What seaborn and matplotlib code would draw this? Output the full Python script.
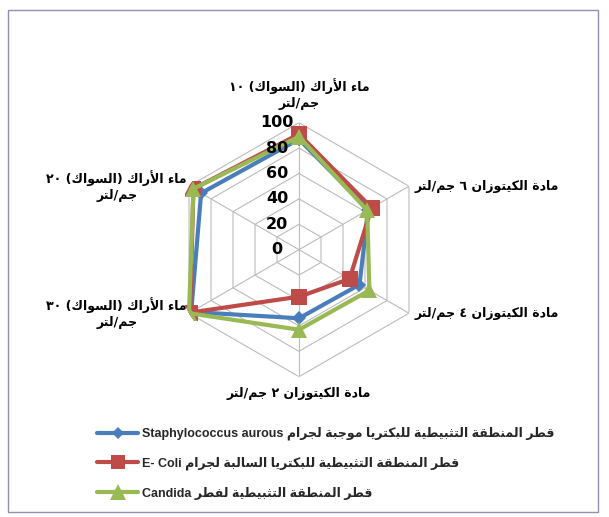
import numpy as np
import pandas as pd
import matplotlib
matplotlib.use("Agg")
import matplotlib.pyplot as plt
import seaborn as sns
from matplotlib import transforms
from matplotlib.lines import Line2D
from matplotlib.patches import Rectangle

# ---------------- data ----------------
categories = [
    "ماء الأراك (السواك) ١٠\nجم/لتر",
    "مادة الكيتوزان ٦ جم/لتر",
    "مادة الكيتوزان ٤ جم/لتر",
    "مادة الكيتوزان ٢ جم/لتر",
    "ماء الأراك (السواك) ٣٠\nجم/لتر",
    "ماء الأراك (السواك) ٢٠\nجم/لتر",
]
staph = [87, 63, 55, 54, 98, 89]
ecoli = [91, 66, 46, 37, 99, 96]
candida = [89, 62, 64, 63, 100, 96]
series_labels = [
    "قطر المنطقة التثبيطية للبكتريا موجبة لجرام Staphylococcus aurous",
    "قطر المنطقة التثبيطية للبكتريا السالبة لجرام E- Coli",
    "قطر المنطقة التثبيطية لفطر Candida",
]
radial_ticks = [0, 20, 40, 60, 80, 100]

# ---------------- Arabic shaping + simple bidi ----------------
FORMS = {
    '\u0621': ('\uFE80', None, None, None),
    '\u0623': ('\uFE83', '\uFE84', None, None),
    '\u0627': ('\uFE8D', '\uFE8E', None, None),
    '\u0628': ('\uFE8F', '\uFE90', '\uFE91', '\uFE92'),
    '\u0629': ('\uFE93', '\uFE94', None, None),
    '\u062A': ('\uFE95', '\uFE96', '\uFE97', '\uFE98'),
    '\u062B': ('\uFE99', '\uFE9A', '\uFE9B', '\uFE9C'),
    '\u062C': ('\uFE9D', '\uFE9E', '\uFE9F', '\uFEA0'),
    '\u062F': ('\uFEA9', '\uFEAA', None, None),
    '\u0631': ('\uFEAD', '\uFEAE', None, None),
    '\u0632': ('\uFEAF', '\uFEB0', None, None),
    '\u0633': ('\uFEB1', '\uFEB2', '\uFEB3', '\uFEB4'),
    '\u0637': ('\uFEC1', '\uFEC2', '\uFEC3', '\uFEC4'),
    '\u0641': ('\uFED1', '\uFED2', '\uFED3', '\uFED4'),
    '\u0642': ('\uFED5', '\uFED6', '\uFED7', '\uFED8'),
    '\u0643': ('\uFED9', '\uFEDA', '\uFEDB', '\uFEDC'),
    '\u0644': ('\uFEDD', '\uFEDE', '\uFEDF', '\uFEE0'),
    '\u0645': ('\uFEE1', '\uFEE2', '\uFEE3', '\uFEE4'),
    '\u0646': ('\uFEE5', '\uFEE6', '\uFEE7', '\uFEE8'),
    '\u0647': ('\uFEE9', '\uFEEA', '\uFEEB', '\uFEEC'),
    '\u0648': ('\uFEED', '\uFEEE', None, None),
    '\u064A': ('\uFEF1', '\uFEF2', '\uFEF3', '\uFEF4'),
}
LAM_ALEF = {'\u0627': ('\uFEFB', '\uFEFC'), '\u0623': ('\uFEF7', '\uFEF8')}


def _dual(c):
    return c in FORMS and FORMS[c][2] is not None


def _joinable(c):
    return c in FORMS and FORMS[c][1] is not None


def shape(s):
    out = []
    i = 0
    prev_dual = False
    while i < len(s):
        c = s[i]
        if c not in FORMS:
            out.append(c)
            prev_dual = False
            i += 1
            continue
        nxt = s[i + 1] if i + 1 < len(s) else ''
        if c == '\u0644' and nxt in LAM_ALEF:
            out.append(LAM_ALEF[nxt][1 if prev_dual else 0])
            prev_dual = False
            i += 2
            continue
        cp = prev_dual and _joinable(c)
        cn = _dual(c) and _joinable(nxt)
        iso, fin, ini, med = FORMS[c]
        out.append(med if (cp and cn) else fin if cp else ini if cn else iso)
        prev_dual = _dual(c)
        i += 1
    return ''.join(out)


MIRROR = {'(': ')', ')': '('}


def _cls(c):
    o = ord(c)
    if (0x0600 <= o <= 0x06FF and not 0x0660 <= o <= 0x0669) or 0xFB50 <= o <= 0xFEFF:
        return 'R'
    if c.isalnum():
        return 'L'
    return 'N'


def visual_line(s):
    s = shape(s)
    cl = [_cls(c) for c in s]
    n = len(s)
    res = cl[:]
    for i in range(n):
        if cl[i] == 'N':
            p = next((cl[j] for j in range(i - 1, -1, -1) if cl[j] != 'N'), 'R')
            q = next((cl[j] for j in range(i + 1, n) if cl[j] != 'N'), 'R')
            res[i] = 'L' if (p == 'L' and q == 'L') else 'R'
    runs = []
    for c, k in zip(s, res):
        if runs and runs[-1][0] == k:
            runs[-1][1].append(c)
        else:
            runs.append([k, [c]])
    parts = []
    for k, chars in reversed(runs):
        if k == 'R':
            parts.append(''.join(MIRROR.get(c, c) for c in reversed(chars)))
        else:
            parts.append(''.join(chars))
    return ''.join(parts)


def ar(s):
    return '\n'.join(visual_line(line) for line in s.split('\n'))


# ---------------- style ----------------
sns.set_theme(style="white")
plt.rcParams['font.family'] = ['DejaVu Sans']
plt.rcParams['font.weight'] = 'bold'

W, H = 609, 517
fig = plt.figure(figsize=(W / 100, H / 100), dpi=100)
fig.patch.set_facecolor('white')
fig.patches.append(Rectangle((8 / W, 5 / H), 590 / W, 502 / H, transform=fig.transFigure,
                             fill=False, edgecolor='#8F8FB0', lw=1.0))

cx, cy, R = 299, 249.7, 127
ax = fig.add_axes([(cx - R) / W, (H - cy - R) / H, 2 * R / W, 2 * R / H], projection='polar')
ax.set_theta_zero_location('N')
ax.set_theta_direction(-1)
ax.set_ylim(0, 100)
ax.grid(False)
ax.spines['polar'].set_visible(False)
ax.set_xticks([])
ax.set_yticks([])
ax.patch.set_alpha(0)

n = len(categories)
angles = np.arange(n) * 2 * np.pi / n
closed = np.append(angles, 2 * np.pi)

grid_c = '#BBBBBB'
for r in radial_ticks[1:]:
    ax.plot(closed, [r] * (n + 1), color=grid_c, lw=0.8, zorder=1)
for a in angles:
    ax.plot([a, a], [0, 100], color=grid_c, lw=0.8, zorder=1)

colors = ['#4A7EBB', '#BE4B48', '#98B954']
markers = ['D', 's', '^']
msizes = [7, 11, 12]
handles = []
for vals, col, mk, ms, lab in zip([staph, ecoli, candida], colors, markers, msizes, series_labels):
    df = pd.DataFrame({'theta': closed, 'value': vals + [vals[0]]})
    sns.lineplot(data=df, x='theta', y='value', ax=ax, sort=False, estimator=None,
                 color=col, lw=3, marker=mk, markersize=ms, markeredgecolor=col,
                 markeredgewidth=0, zorder=3)
    handles.append(Line2D([], [], color=col, lw=3, marker=mk, markersize=ms - 1,
                          markeredgewidth=0, label=ar(lab)))
ax.set_xlabel('')
ax.set_ylabel('')

# radial tick labels
off = transforms.offset_copy(ax.transData, fig=fig, x=-22, y=0, units='dots')
for r in radial_ticks:
    ax.text(0, r, str(r), transform=off, ha='center', va='center', fontsize=11.5,
            fontweight='bold', color='black', zorder=4)

# category labels
lab_fs = 9
specs = [
    (0, 13, 'center', 'bottom'),
    (6, 0, 'left', 'center'),
    (6, 0, 'left', 'center'),
    (0, -10, 'center', 'top'),
    (-2, 0, 'right', 'center'),
    (-2, 0, 'right', 'center'),
]
for a, lab, (dx, dy, ha, va) in zip(angles, categories, specs):
    t = transforms.offset_copy(ax.transData, fig=fig, x=dx, y=dy, units='dots')
    ax.text(a, 100, ar(lab), transform=t, ha=ha, va=va, multialignment='center',
            fontsize=lab_fs, fontweight='bold', color='black', linespacing=1.3)

leg = fig.legend(handles=handles, loc='upper left', bbox_to_anchor=(97 / W, 1 - 427 / H),
                 frameon=False, handlelength=3.3, numpoints=1, labelspacing=1.3,
                 borderpad=0, borderaxespad=0,
                 handletextpad=0.3, prop={'family': ['Liberation Sans', 'DejaVu Sans'],
                                          'weight': 'bold', 'size': 9})

fig.savefig('out.png', dpi=100, facecolor='white')
